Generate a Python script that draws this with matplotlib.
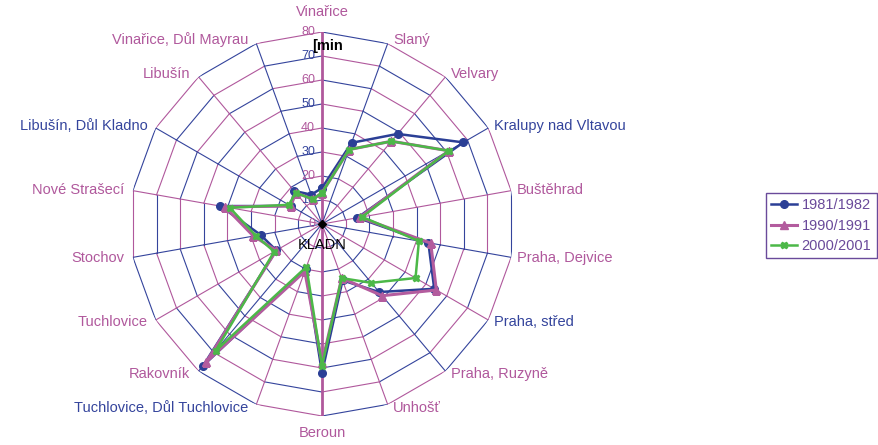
import numpy as np
import matplotlib
matplotlib.use("Agg")
import matplotlib.pyplot as plt

plt.rcParams['font.family'] = ['Liberation Sans', 'DejaVu Sans']

# -------- Data --------
categories = ["Vinařice", "Slaný", "Velvary", "Kralupy nad Vltavou", "Buštěhrad",
              "Praha, Dejvice", "Praha, střed", "Praha, Ruzyně", "Unhošť", "Beroun",
              "Tuchlovice, Důl Tuchlovice", "Rakovník", "Tuchlovice", "Stochov",
              "Nové Strašecí", "Libušín, Důl Kladno", "Libušín", "Vinařice, Důl Mayrau"]
s1981 = [15, 36, 49, 68, 15, 45, 54, 37, 25, 62, 20, 77, 22, 26, 43, 15, 18, 13]
s1990 = [13, 33, 45, 61, 16, 46, 55, 39, 24, 58, 21, 75, 22, 29, 41, 15, 17, 11]
s2000 = [13, 33, 45, 61, 17, 41, 45, 32, 24, 59, 19, 69, 23, 28, 39, 16, 17, 11]
series_labels = ["1981/1982", "1990/1991", "2000/2001"]
rings = [0, 10, 20, 30, 40, 50, 60, 70, 80]

# -------- Style --------
purple = "#b0589c"
blue = "#34449c"
c_blue = "#2b3f96"
c_pink = "#b35c9e"
c_green = "#4cb848"

n = len(categories)
theta = np.linspace(0, 2 * np.pi, n, endpoint=False)
theta_c = np.append(theta, theta[0])

fig = plt.figure(figsize=(8.79, 4.45), dpi=100)
ax = fig.add_axes([130 / 879, 29 / 445, 384 / 879, 384 / 445], polar=True)
ax.set_theta_zero_location("N")
ax.set_theta_direction(-1)
ax.set_ylim(0, 80)
ax.grid(False)
ax.set_xticks([])
ax.set_yticks([])
ax.spines["polar"].set_visible(False)
ax.patch.set_alpha(0)

# polygon rings, segment colours alternating like the scanned original
for k, r in enumerate(rings[1:], start=1):
    for j in range(n):
        col = blue if (k + j) % 2 == 0 else purple
        ax.plot([theta_c[j], theta_c[j + 1]], [r, r], color=col, lw=0.8, zorder=1)

# spokes
for j, t in enumerate(theta):
    if j == 0 or j == n // 2:
        ax.plot([t, t], [0, 80], color=purple, lw=2.0, zorder=1)
    else:
        ax.plot([t, t], [0, 80], color=purple if j % 2 == 0 else blue, lw=0.8, zorder=1)

# value tick labels
for k, r in enumerate(rings):
    ax.annotate(str(r), xy=(0, r), xytext=(-5, 0), textcoords="offset points",
                ha="right", va="center", fontsize=9,
                color=purple if k % 2 == 0 else blue)

# category labels
for j, (t, lab) in enumerate(zip(theta, categories)):
    s, c = np.sin(t), np.cos(t)
    if j == 0:
        ha, va, off = "center", "bottom", (0, 9)
    elif j == n // 2:
        ha, va, off = "center", "top", (0, -7)
    elif s > 0:
        ha, va, off = "left", "center", (4, 3 * c)
    else:
        ha, va, off = "right", "center", (-6, 3 * c)
    col = blue if lab in ("Kralupy nad Vltavou", "Praha, střed",
                          "Tuchlovice, Důl Tuchlovice", "Libušín, Důl Kladno") else purple
    ax.annotate(lab, xy=(t, 80), xytext=off, textcoords="offset points",
                ha=ha, va=va, fontsize=10.5, color=col)

# series
ax.plot(theta_c, s1981 + s1981[:1], color=c_blue, lw=1.8, marker="o", ms=5.5,
        label=series_labels[0], zorder=3)
ax.plot(theta_c, s1990 + s1990[:1], color=c_pink, lw=2.2, marker="^", ms=5.5,
        label=series_labels[1], zorder=4)
ax.plot(theta_c, s2000 + s2000[:1], color=c_green, lw=1.8, marker="X", ms=5,
        label=series_labels[2], zorder=5)

# centre mark and texts
ax.plot([0], [0], marker="D", color="black", ms=4, zorder=6)
ax.annotate("KLADN", xy=(0, 0), xytext=(0, -15), textcoords="offset points",
            ha="center", va="center", fontsize=10.5, color="black")
ax.annotate("[min", xy=(0, 80), xytext=(-7, -10), textcoords="offset points",
            ha="left", va="center", fontsize=10.5, fontweight="bold", color="black")

leg = fig.legend(loc="upper left", bbox_to_anchor=(766 / 879, 1 - 193 / 445),
                 borderaxespad=0, fontsize=10.5, handlelength=1.8, handletextpad=0.3,
                 labelspacing=0.45, borderpad=0.35, fancybox=False, framealpha=1)
leg.get_frame().set_edgecolor("#6a4a9a")
leg.get_frame().set_linewidth(1.0)
for txt in leg.get_texts():
    txt.set_color("#6a4a9a")

fig.savefig("out.png", dpi=100)
